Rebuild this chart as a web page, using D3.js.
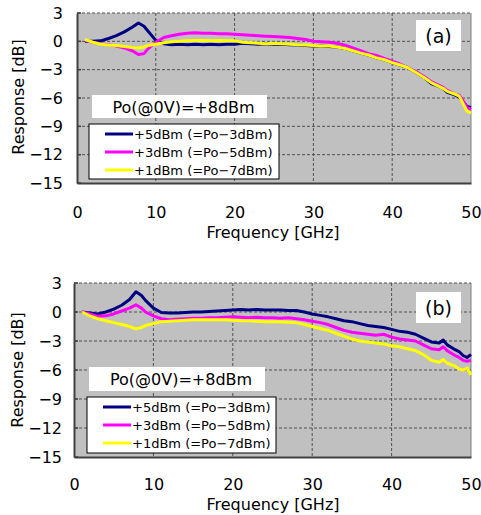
<!DOCTYPE html>
<html><head><meta charset="utf-8">
<script src="https://cdn.jsdelivr.net/npm/d3@7"></script>
<style>body{margin:0;background:#fff}svg{display:block}text{font-family:"DejaVu Sans",sans-serif}</style>
</head><body><svg id="c" width="481" height="515"></svg>
<script>
const freq = [1,2,3,4,5,6,7,7.8,8.5,9,10,11,12,13,14,15,16,17,18,19,20,21,22,23,24,25,26,27,28,29,30,31,32,33,34,35,36,37,38,39,40,41,42,43,44,45,46,46.5,47,48,48.5,49,49.5,50];
const aNavy = [0,0,0.05,0.3,0.6,1.0,1.5,1.95,1.6,1.1,0.1,-0.25,-0.35,-0.3,-0.35,-0.3,-0.35,-0.3,-0.35,-0.3,-0.3,-0.2,-0.25,-0.3,-0.25,-0.3,-0.3,-0.35,-0.4,-0.45,-0.5,-0.5,-0.55,-0.6,-0.75,-1.0,-1.25,-1.45,-1.75,-1.95,-2.25,-2.5,-2.8,-3.3,-3.8,-4.5,-4.8,-5.0,-5.4,-5.7,-5.9,-6.4,-6.9,-7.0];
const aMag  = [0.1,-0.1,-0.25,-0.35,-0.5,-0.7,-1.0,-1.4,-1.3,-0.8,-0.1,0.4,0.6,0.75,0.85,0.9,0.85,0.85,0.8,0.8,0.75,0.7,0.65,0.6,0.55,0.5,0.45,0.4,0.3,0.2,0.0,-0.05,-0.1,-0.2,-0.4,-0.7,-1.0,-1.3,-1.5,-1.8,-2.1,-2.4,-2.8,-3.2,-3.7,-4.3,-4.7,-4.9,-5.2,-5.6,-5.7,-6.3,-7.0,-7.2];
const aYel  = [0.2,-0.1,-0.3,-0.4,-0.45,-0.55,-0.65,-0.7,-0.6,-0.45,-0.3,-0.15,-0.05,0,0.05,0.1,0.1,0.05,0.1,0.05,0.05,-0.1,-0.15,-0.2,-0.25,-0.2,-0.25,-0.3,-0.35,-0.4,-0.45,-0.5,-0.5,-0.6,-0.75,-1.0,-1.25,-1.45,-1.75,-1.95,-2.25,-2.5,-2.8,-3.3,-3.8,-4.4,-4.8,-5.0,-5.3,-5.6,-5.8,-6.6,-7.4,-7.6];
const bNavy = [0,-0.1,-0.2,0,0.3,0.7,1.3,2.1,1.7,1.2,0.4,-0.05,-0.1,-0.1,-0.05,0,0,0.05,0.1,0.15,0.2,0.25,0.2,0.25,0.2,0.2,0.2,0.15,0.15,0.0,-0.2,-0.35,-0.5,-0.7,-0.9,-1.0,-1.2,-1.4,-1.5,-1.6,-1.8,-2.0,-2.1,-2.3,-2.7,-3.1,-3.2,-2.9,-3.4,-3.9,-4.1,-4.5,-4.7,-4.4];
const bMag  = [0,-0.2,-0.45,-0.4,-0.2,0.1,0.4,0.75,0.4,0.0,-0.4,-0.7,-0.8,-0.75,-0.7,-0.65,-0.65,-0.6,-0.6,-0.55,-0.5,-0.55,-0.6,-0.55,-0.6,-0.6,-0.65,-0.6,-0.7,-0.8,-0.95,-1.1,-1.3,-1.6,-1.9,-2.1,-2.2,-2.3,-2.4,-2.3,-2.6,-2.8,-2.9,-3.0,-3.4,-3.8,-3.9,-3.6,-4.0,-4.5,-4.7,-5.0,-5.1,-5.0];
const bYel  = [0,-0.4,-0.7,-0.9,-1.1,-1.3,-1.5,-1.75,-1.6,-1.4,-1.2,-1.0,-0.95,-0.9,-0.85,-0.8,-0.8,-0.8,-0.8,-0.8,-0.85,-0.9,-0.9,-0.95,-1.0,-1.0,-1.0,-1.05,-1.1,-1.3,-1.5,-1.7,-1.9,-2.2,-2.5,-2.8,-3.0,-3.1,-3.2,-3.3,-3.5,-3.6,-3.8,-4.0,-4.4,-5.0,-5.2,-4.9,-5.3,-5.6,-5.9,-6.0,-5.8,-6.5];
const xTicks = [0,10,20,30,40,50];
const yTicks = [3,0,-3,-6,-9,-12,-15];
const seriesNames = ["+5dBm (=Po\u22123dBm)","+3dBm (=Po\u22125dBm)","+1dBm (=Po\u22127dBm)"];
const seriesColors = ["#000080","#ff00ff","#ffff00"];
const noteText = "Po(@0V)=+8dBm";
const panelLabels = ["(a)","(b)"];

const svg = d3.select("#c");
const fmt = d => d < 0 ? "\u2212" + Math.abs(d) : String(d);

function panel(cfg){
  const g = svg.append("g");
  const x = d3.scaleLinear().domain([0,50]).range([cfg.x0,cfg.x1]);
  const y = d3.scaleLinear().domain([-15,3]).range([cfg.y1,cfg.y0]);
  g.append("rect").attr("x",cfg.x0).attr("y",cfg.y0).attr("width",cfg.x1-cfg.x0).attr("height",cfg.y1-cfg.y0).attr("fill","#c0c0c0");
  g.selectAll(".gx").data(xTicks.slice(1)).enter().append("line")
    .attr("x1",d=>x(d)).attr("x2",d=>x(d)).attr("y1",cfg.y0).attr("y2",cfg.y1)
    .attr("stroke",d=>d===50?"#808080":"#505050").attr("stroke-width",1).attr("stroke-dasharray",d=>d===50?null:"3,2");
  g.selectAll(".gy").data(yTicks.slice(0,-1)).enter().append("line")
    .attr("x1",cfg.x0).attr("x2",cfg.x1).attr("y1",d=>y(d)).attr("y2",d=>y(d))
    .attr("stroke","#505050").attr("stroke-width",1).attr("stroke-dasharray","3,2");
  const ax = g.append("g").attr("transform",`translate(0,${cfg.y1})`)
    .call(d3.axisBottom(x).tickValues(xTicks).tickSize(0).tickPadding(cfg.xpad).tickFormat(fmt));
  const ay = g.append("g").attr("transform",`translate(${cfg.x0},0)`)
    .call(d3.axisLeft(y).tickValues(yTicks).tickSize(0).tickPadding(cfg.ypad).tickFormat(fmt));
  [ax,ay].forEach(a=>{a.select(".domain").attr("stroke","#404040").attr("stroke-width",2);
    a.selectAll("text").attr("font-size",16).attr("fill","#000");});
  g.selectAll(".ty").data(yTicks).enter().append("line")
    .attr("x1",cfg.x0).attr("x2",cfg.x0+4).attr("y1",d=>y(d)).attr("y2",d=>y(d)).attr("stroke","#404040").attr("stroke-width",1.5);
  const line = d3.line().x((d,i)=>x(freq[i])).y(d=>y(d));
  cfg.series.forEach((s,i)=>{
    g.append("path").datum(s).attr("d",line).attr("fill","none")
      .attr("stroke",seriesColors[i]).attr("stroke-width",3).attr("stroke-linejoin","round");
  });
  g.append("rect").attr("x",cfg.note[0]).attr("y",cfg.note[1]).attr("width",cfg.note[2]).attr("height",cfg.note[3]).attr("fill","#fff");
  g.append("text").attr("x",cfg.note[0]+cfg.note[2]/2+4).attr("y",cfg.note[1]+cfg.note[3]/2+6)
    .attr("text-anchor","middle").attr("font-size",16).text(noteText);
  const L = cfg.leg;
  g.append("rect").attr("x",L[0]).attr("y",L[1]).attr("width",L[2]).attr("height",L[3]).attr("fill","#fff").attr("stroke","#000").attr("stroke-width",1);
  seriesNames.forEach((n,i)=>{
    const yy = L[1]+10+i*18;
    g.append("line").attr("x1",L[0]+16).attr("x2",L[0]+44).attr("y1",yy).attr("y2",yy).attr("stroke",seriesColors[i]).attr("stroke-width",3);
    g.append("text").attr("x",L[0]+45).attr("y",yy+5).attr("font-size",13).text(n);
  });
  const P = cfg.lab;
  g.append("rect").attr("x",P[0]).attr("y",P[1]).attr("width",P[2]).attr("height",P[3]).attr("fill","#fff");
  g.append("text").attr("x",P[0]+P[2]/2).attr("y",P[1]+P[3]/2+7).attr("text-anchor","middle").attr("font-size",19).text(cfg.label);
  g.append("text").attr("x",273).attr("y",cfg.xty).attr("text-anchor","middle").attr("font-size",16).text("Frequency [GHz]");
  g.append("text").attr("transform",`translate(${cfg.ytx},${cfg.yty}) rotate(-90)`).attr("text-anchor","middle").attr("font-size",16).text("Response [dB]");
}

panel({x0:77,x1:471,y0:13,y1:183,xpad:24,ypad:14,series:[aNavy,aMag,aYel],
  note:[92,95,175,23],leg:[89,124,190,55],lab:[416,20,45,31],label:panelLabels[0],ytx:24,yty:97,xty:238});
panel({x0:74,x1:471,y0:283,y1:457,xpad:22,ypad:12,series:[bNavy,bMag,bYel],
  note:[89,367,176,24],leg:[87,397,189,56],lab:[416,292,45,31],label:panelLabels[1],ytx:23,yty:370,xty:510});
</script></body></html>
